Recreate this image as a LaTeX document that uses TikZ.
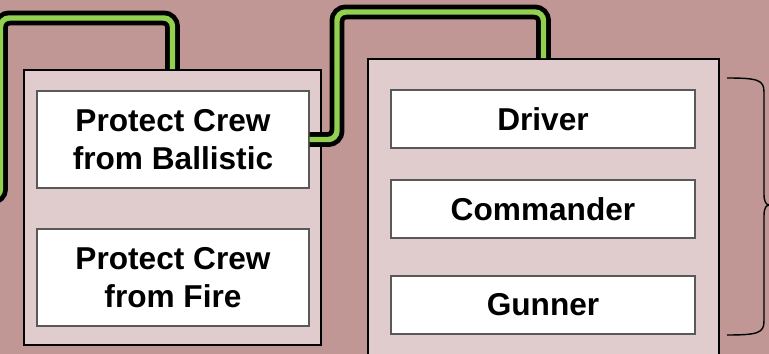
\documentclass[tikz,border=0pt]{standalone}
\usepackage{fontspec}
\setmainfont{Liberation Sans}
\usepackage{tikz}
\definecolor{bgrose}{HTML}{C09795}
\definecolor{panelpink}{HTML}{E0CCCC}
\definecolor{wiregreen}{HTML}{92D050}
\def\px{0.02cm}
\tikzstyle{panel} = [draw=black,line width=1pt,fill=panelpink,inner sep=0pt]
\tikzstyle{task} = [draw=black!65,line width=0.7pt,fill=white,inner sep=0pt,align=center,font=\fontsize{18}{21.5}\selectfont\bfseries]
\tikzstyle{wire} = [line width=8.5pt,black,rounded corners=5pt,postaction={draw=wiregreen,line width=3.1pt}]

\begin{document}
\begin{tikzpicture}[x=0.02cm,y=-0.02cm]
      \clip(0,0)rectangle(769,354);
      \fill[bgrose](0,0)rectangle(769,354);
      % crew functions
      \node[panel,minimum width=297*\px,minimum height=275*\px](crew)at(172.5,207.5){};
      \node[task,minimum width=272*\px,minimum height=97*\px](ballistic)at(173,139.5){Protect Crew\\from Ballistic};
      \node[task,minimum width=272*\px,minimum height=97*\px](fire)at(173,277.5){Protect Crew\\from Fire};
      % crew positions
      \node[panel,minimum width=351*\px,minimum height=311*\px](seats)at(543.5,214.5){};
      \node[task,minimum width=304*\px,minimum height=58*\px](driver)at(543,119){Driver};
      \node[task,minimum width=304*\px,minimum height=58*\px](commander)at(543,209){Commander};
      \node[task,minimum width=304*\px,minimum height=58*\px](gunner)at(543,305){Gunner};
      % links
      \coordinate(feed)at(-20,197.5);
      \draw[wire](feed)--(0.5,197.5)--(0.5,18)--(crew.north|-0,18)--(crew.north);
      \draw[wire](ballistic.east)--(337,139.5)--(337,12)--(seats.north|-0,12)--(seats.north);
      \draw[line width=0.8pt](727,78)..controls(758,78)and(764,80)..(764,92)--(764,194)
        ..controls(764,202)and(766,205)..(770,205)..controls(766,205)and(764,208)..(764,216)
        --(764,321)..controls(764,333)and(758,335)..(727,335);
\end{tikzpicture}
\end{document}
